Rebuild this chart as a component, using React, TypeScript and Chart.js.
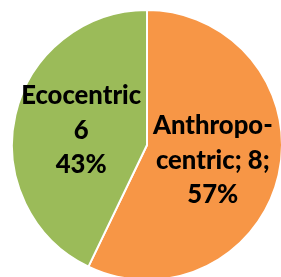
import React, { useEffect, useRef } from "react";
import { Chart, registerables } from "chart.js";

Chart.register(...registerables);

const categories = ["Anthropocentric", "Ecocentric"];
const values = [8, 6];
const labelLines = [
  ["Anthropo-", "centric; 8;", "57%"],
  ["Ecocentric", "6", "43%"],
];
const colors = ["#F79646", "#9BBB59"];

const FONT_SIZE = 27;
const LINE_H = 34.5;
const X_SCALE = 0.95;

const labelPlugin = {
  id: "sliceLabels",
  afterDatasetsDraw(chart: any) {
    const ctx = chart.ctx;
    const meta = chart.getDatasetMeta(0);
    ctx.save();
    ctx.fillStyle = "#000";
    ctx.font = `900 ${FONT_SIZE}px Lato, "DejaVu Sans", sans-serif`;
    ctx.textAlign = "center";
    ctx.textBaseline = "middle";
    meta.data.forEach((arc: any, i: number) => {
      const p = arc.tooltipPosition();
      const lines = labelLines[i];
      const n = lines.length;
      lines.forEach((line: string, j: number) => {
        const y = p.y + (j - (n - 1) / 2) * LINE_H;
        ctx.save();
        ctx.translate(p.x, y);
        ctx.scale(X_SCALE, 1);
        ctx.fillText(line, 0, 0);
        ctx.restore();
      });
    });
    ctx.restore();
  },
};

export default function App() {
  const ref = useRef<HTMLCanvasElement | null>(null);
  useEffect(() => {
    if (!ref.current) return;
    const chart = new Chart(ref.current, {
      type: "pie",
      data: {
        labels: categories,
        datasets: [
          {
            data: values,
            backgroundColor: colors,
            borderColor: "#ffffff",
            borderWidth: 2,
          },
        ],
      },
      options: {
        animation: false,
        responsive: true,
        maintainAspectRatio: false,
        layout: { padding: 0 },
        plugins: {
          legend: { display: false },
          tooltip: { enabled: false },
        },
      },
      plugins: [labelPlugin],
    });
    return () => chart.destroy();
  }, []);
  return (
    <div
      style={{
        position: "fixed",
        left: 11,
        top: 9,
        width: 272,
        height: 272,
      }}
    >
      <canvas ref={ref} />
    </div>
  );
}
